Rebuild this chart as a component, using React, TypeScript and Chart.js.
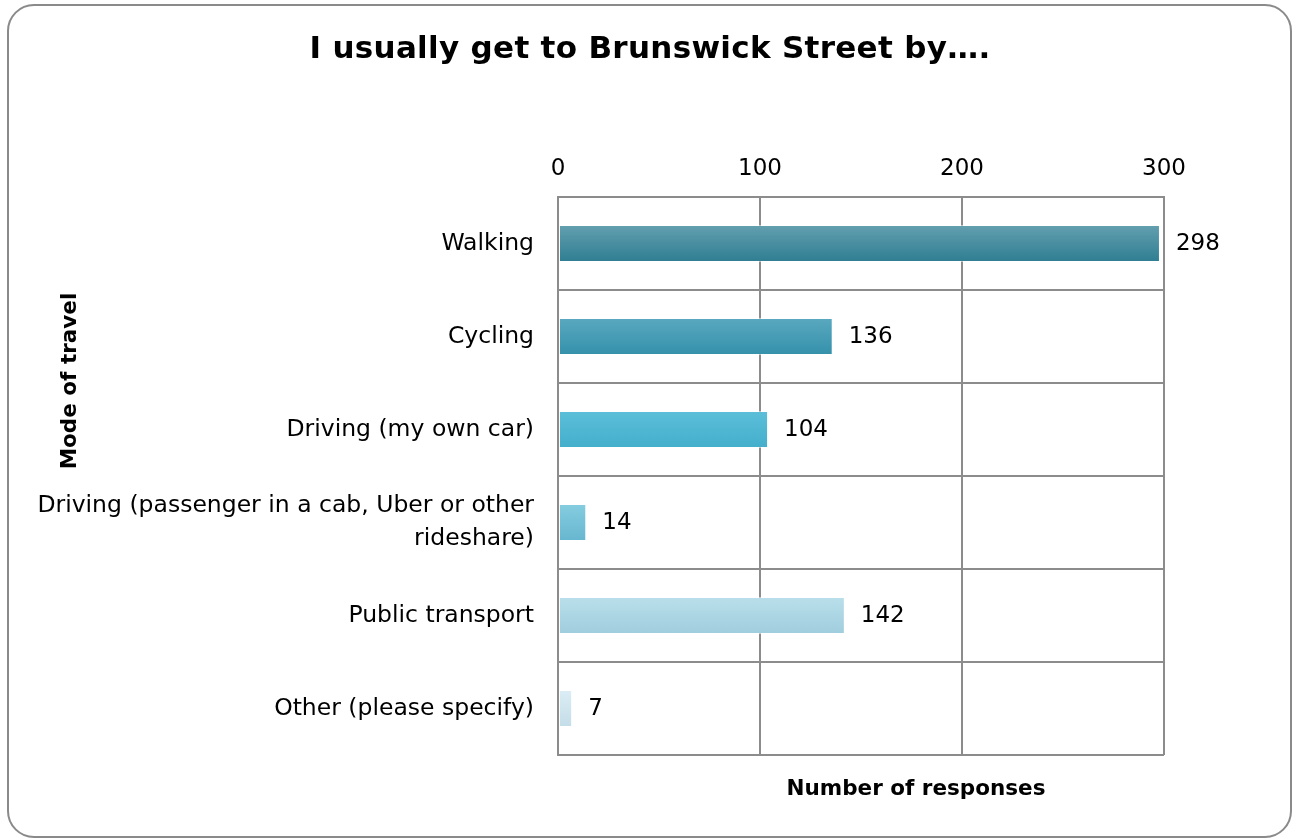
import React, { useEffect, useRef } from "react";
import { Chart, registerables } from "chart.js";

Chart.register(...registerables);

const categories: (string | string[])[] = [
  "Walking",
  "Cycling",
  "Driving (my own car)",
  ["Driving (passenger in a cab, Uber or other", "rideshare)"],
  "Public transport",
  "Other (please specify)",
];
const responses = [298, 136, 104, 14, 142, 7];
const barTop = ["#64a0b0", "#5aa9c0", "#5cbfd9", "#86cde0", "#badfeb", "#dcedf5"];
const barBottom = ["#2e7d91", "#3490aa", "#43aecb", "#66b6cf", "#9fcddd", "#c3dde8"];
const xTicks = [0, 100, 200, 300];
const chartTitle = "I usually get to Brunswick Street by….";
const xTitle = "Number of responses";
const yTitle = "Mode of travel";

const FONT = "'DejaVu Sans', sans-serif";

const framePlugin = {
  id: "frame",
  beforeDraw(chart: any) {
    const c = chart.ctx;
    c.save();
    c.fillStyle = "#ffffff";
    c.fillRect(0, 0, chart.width, chart.height);
    const x = 8, y = 5, w = 1283, h = 832, r = 26;
    c.beginPath();
    c.moveTo(x + r, y);
    c.lineTo(x + w - r, y);
    c.arcTo(x + w, y, x + w, y + r, r);
    c.lineTo(x + w, y + h - r);
    c.arcTo(x + w, y + h, x + w - r, y + h, r);
    c.lineTo(x + r, y + h);
    c.arcTo(x, y + h, x, y + h - r, r);
    c.lineTo(x, y + r);
    c.arcTo(x, y, x + r, y, r);
    c.closePath();
    c.strokeStyle = "#8a8a8a";
    c.lineWidth = 2;
    c.stroke();
    c.restore();
  },
  afterDraw(chart: any) {
    const c = chart.ctx;
    c.save();
    c.fillStyle = "#000";
    c.textAlign = "center";
    c.textBaseline = "middle";
    c.letterSpacing = "0.3px";
    c.font = `bold 31px ${FONT}`;
    c.fillText(chartTitle, 650, 50);
    c.letterSpacing = "0px";
    c.font = `bold 21.5px ${FONT}`;
    c.fillText(xTitle, 916, 789);
    c.translate(70, 381);
    c.rotate(-Math.PI / 2);
    c.fillText(yTitle, 0, 0);
    c.restore();
    // value labels
    const meta = chart.getDatasetMeta(0);
    c.save();
    c.font = `23px ${FONT}`;
    c.fillStyle = "#000";
    c.textAlign = "left";
    c.textBaseline = "middle";
    meta.data.forEach((el: any, i: number) => {
      c.fillText(String(responses[i]), el.x + 16, el.y + 1);
    });
    c.restore();
  },
};

export default function App() {
  const ref = useRef<HTMLCanvasElement>(null);
  useEffect(() => {
    document.body.style.margin = "0";
    const chart = new Chart(ref.current!, {
      type: "bar",
      data: {
        labels: categories,
        datasets: [
          {
            data: responses,
            backgroundColor: (ctx: any) => {
              const i = ctx.dataIndex;
              const ch = ctx.chart;
              const ys = ch.scales && ch.scales.y;
              if (!ys || i === undefined || !isFinite(ys.getPixelForValue(i))) return barBottom[i ?? 0];
              const cy = ys.getPixelForValue(i);
              const g = ch.ctx.createLinearGradient(0, cy - 19, 0, cy + 19);
              g.addColorStop(0, barTop[i]);
              g.addColorStop(1, barBottom[i]);
              return g;
            },
            borderColor: "rgba(255,255,255,0.5)",
            borderWidth: 1,
            borderSkipped: false,
            barPercentage: 0.8,
            categoryPercentage: 0.5,
          },
        ],
      },
      options: {
        indexAxis: "y",
        animation: false,
        responsive: false,
        maintainAspectRatio: false,
        layout: { padding: { left: 10, right: 129, top: 0, bottom: 84 } },
        plugins: { legend: { display: false }, tooltip: { enabled: false }, title: { display: false } },
        scales: {
          x: {
            position: "top",
            min: 0,
            max: 300,
            afterBuildTicks: (s: any) => {
              s.ticks = xTicks.map((v) => ({ value: v }));
            },
            afterFit: (s: any) => {
              s.height = 197;
            },
            ticks: { color: "#000", font: { family: FONT, size: 23 }, padding: 14 },
            grid: { color: "#8c8c8c", lineWidth: 2, drawTicks: false },
            border: { color: "#8c8c8c", width: 2 },
          },
          y: {
            afterFit: (s: any) => {
              s.width = 548;
            },
            ticks: { color: "#000", font: { family: FONT, size: 23.5, lineHeight: 1.4 }, padding: 24 },
            grid: { color: "#8c8c8c", lineWidth: 2, drawTicks: false, offset: true },
            border: { color: "#8c8c8c", width: 2 },
          },
        },
      },
      plugins: [framePlugin],
    } as any);
    return () => chart.destroy();
  }, []);
  return (
    <div style={{ width: 1293, height: 839 }}>
      <canvas ref={ref} width={1293} height={839} style={{ display: "block" }} />
    </div>
  );
}
